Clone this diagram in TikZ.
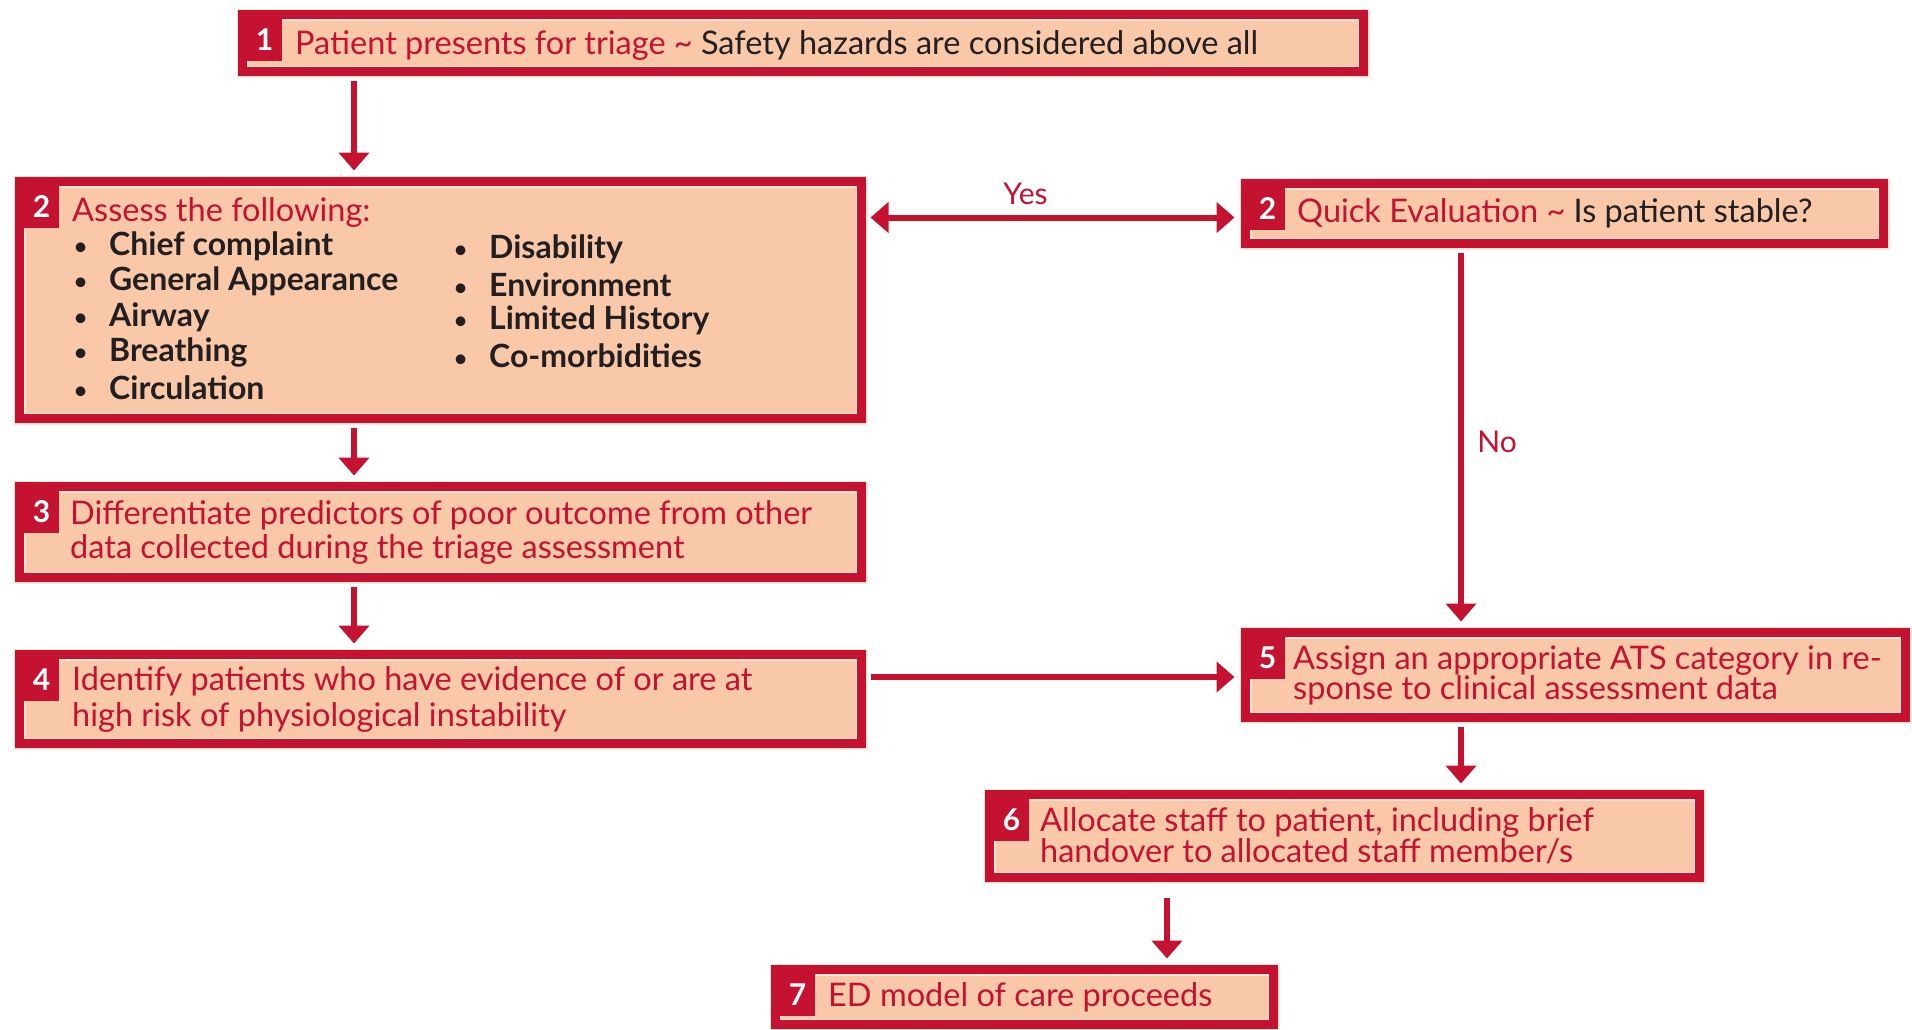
\documentclass[tikz,border=0pt]{standalone}
\usepackage{fontspec}
\setmainfont{Lato}
\usetikzlibrary{arrows.meta,positioning}
\definecolor{trired}{HTML}{C41230}
\definecolor{peach}{HTML}{F9C8A9}
\definecolor{pale}{HTML}{FCE6D8}
\definecolor{ink}{HTML}{231F20}
\newcommand{\dotmark}{\makebox[36pt][l]{\mdseries\fontsize{26}{26}\selectfont•}}
\begin{document}
\begin{tikzpicture}[x=1pt,y=-1pt,
 stepbox/.style={fill=peach,draw=pale,line width=12pt,
  postaction={draw=trired,fill=none,line width=9pt},
  inner sep=0pt,outer sep=0pt,anchor=north west},
 numbox/.style={fill=trired,text=white,font=\bfseries\fontsize{30}{30}\selectfont,
  minimum width=35pt,minimum height=42pt,inner sep=0pt,outer sep=0pt},
 txt/.style={align=left,text=trired,inner sep=0pt,
  font=\fontsize{32.5}{34}\selectfont},
 item/.style={anchor=west,inner sep=0pt,text=ink,
  font=\bfseries\fontsize{32}{34}\selectfont},
 flow/.style={draw=trired,line width=6pt,shorten <=9pt,shorten >=11pt,
  -{Triangle[length=18pt,width=30pt]}},
 lbl/.style={text=trired,font=\fontsize{30}{30}\selectfont}]
 \useasboundingbox (0,0) rectangle (1912,1029);
 % boxes
 \node[stepbox,minimum width=1121pt,minimum height=57pt] (b1) at (242.5,14.5) {};
 \node[stepbox,minimum width=842pt,minimum height=237pt] (b2) at (19.5,181.5) {};
 \node[stepbox,minimum width=638pt,minimum height=60pt] (bq) at (1245.5,183.5) {};
 \node[stepbox,minimum width=842pt,minimum height=91pt] (b3) at (19.5,486.5) {};
 \node[stepbox,minimum width=842pt,minimum height=89pt] (b4) at (19.5,654.5) {};
 \node[stepbox,minimum width=660pt,minimum height=85pt] (b5) at (1245.5,632.5) {};
 \node[stepbox,minimum width=710pt,minimum height=83pt] (b6) at (989.5,794.5) {};
 \node[stepbox,minimum width=498pt,minimum height=55pt] (b7) at (775.5,969.5) {};
 % numbers
 \node[numbox,below right=4.5pt and 4.5pt of b1.north west] (n1) {1};
 \node[numbox,below right=4.5pt and 4.5pt of b2.north west] (n2) {2};
 \node[numbox,below right=4.5pt and 4.5pt of bq.north west] (nq) {2};
 \node[numbox,below right=4.5pt and 4.5pt of b3.north west] (n3) {3};
 \node[numbox,below right=4.5pt and 4.5pt of b4.north west] (n4) {4};
 \node[numbox,below right=4.5pt and 4.5pt of b5.north west] (n5) {5};
 \node[numbox,below right=4.5pt and 4.5pt of b6.north west] (n6) {6};
 \node[numbox,below right=4.5pt and 4.5pt of b7.north west] (n7) {7};
 % texts
 \node[txt,right=52.5pt of b1.west,yshift=-2pt] (t1)
  {Patient presents for triage \textasciitilde{} \textcolor{ink}{Safety hazards are considered above all}};
 \node[txt,right=51.5pt of bq.west] (tq)
  {Quick Evaluation \textasciitilde{} \textcolor{ink}{Is patient stable?}};
 \node[txt,anchor=west] (t2) at (72,212) {Assess the following:};
 \foreach \w [count=\i from 0] in {Chief complaint,General Appearance,Airway,Breathing,Circulation}
  \node[item] (la\i) at (73,246+35.5*\i) {\dotmark\w};
 \foreach \w [count=\i from 0] in {Disability,Environment,Limited History,Co-morbidities}
  \node[item] (lb\i) at (453,249+35.5*\i) {\dotmark\w};
 \node[txt,right=50.5pt of b3.west] (t3)
  {Differentiate predictors of poor outcome from other\\data collected during the triage assessment};
 \node[txt,right=52.5pt of b4.west] (t4)
  {Identify patients who have evidence of or are at\\[2pt]high risk of physiological instability};
 \node[txt,right=47.5pt of b5.west] (t5)
  {Assign an appropriate ATS category in re-\\[-4pt]sponse to clinical assessment data};
 \node[txt,right=50.5pt of b6.west] (t6)
  {Allocate staff to patient, including brief\\[-3pt]handover to allocated staff member/s};
 \node[txt,right=52.5pt of b7.west] (t7) {ED model of care proceeds};
 % connectors
 \coordinate (lx) at (354,0);
 \coordinate (rx) at (1461,0);
 \coordinate (mx) at (1167,0);
 \draw[flow] (b1.south -| lx) -- (b2.north -| lx);
 \draw[flow] (b2.south -| lx) -- (b3.north -| lx);
 \draw[flow] (b3.south -| lx) -- (b4.north -| lx);
 \draw[flow,{Triangle[length=18pt,width=30pt]}-{Triangle[length=18pt,width=30pt]}]
  ([yshift=-4pt]b2.east |- bq.west) -- ([yshift=-4pt]bq.west)
  node[lbl,midway,above=6pt,xshift=-28pt] (yes) {Yes};
 \draw[flow] (bq.south -| rx) -- (b5.north -| rx)
  node[lbl,pos=.5,right=10pt,yshift=-4pt] (no) {No};
 \draw[flow] ([yshift=-2pt]b4.east |- b5.west) -- ([yshift=-2pt]b5.west);
 \draw[flow] (b5.south -| rx) -- (b6.north -| rx);
 \draw[flow,shorten <=20pt] (b6.south -| mx) -- (b7.north -| mx);
\end{tikzpicture}
\end{document}
